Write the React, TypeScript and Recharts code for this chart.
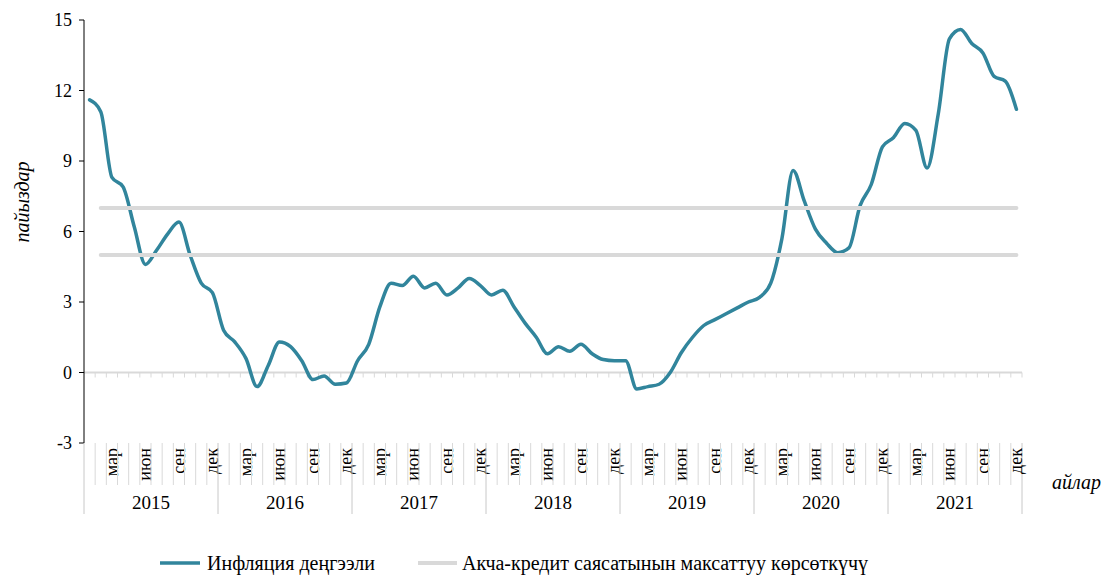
import React from "react";
import { LineChart, Line, XAxis, YAxis, ReferenceLine, Legend } from "recharts";

const years = ["2015", "2016", "2017", "2018", "2019", "2020", "2021"];
const monthNames = ["", "", "мар", "", "", "июн", "", "", "сен", "", "", "дек"];

// inflation, % y/y, Jan 2015 .. Dec 2021
const inflation = [
  11.6, 11.1, 8.3, 7.9, 6.2, 4.6, 5.2, 5.9, 6.4, 5.0, 3.8, 3.4,
  1.8, 1.3, 0.6, -0.6, 0.3, 1.3, 1.1, 0.5, -0.3, -0.15, -0.5, -0.45,
  0.5, 1.2, 2.8, 3.8, 3.7, 4.1, 3.6, 3.8, 3.3, 3.6, 4.0, 3.7,
  3.3, 3.5, 2.8, 2.1, 1.5, 0.8, 1.1, 0.9, 1.2, 0.8, 0.55, 0.5,
  0.5, -0.7, -0.6, -0.5, 0.0, 0.85, 1.5, 2.0, 2.25, 2.5, 2.75, 3.0,
  3.2, 3.8, 5.7, 8.6, 7.3, 6.1, 5.5, 5.1, 5.3, 7.1, 8.0, 9.6,
  10.0, 10.6, 10.3, 8.7, 11.0, 14.2, 14.6, 14.0, 13.6, 12.6, 12.4, 11.2,
];

// policy target corridor, drawn from Feb 2015
const targetLow = 5;
const targetHigh = 7;
const targetFrom = 1;

const yTicks = [-3, 0, 3, 6, 9, 12, 15];

const rows = inflation.map((v, i) => ({
  key: `${years[Math.floor(i / 12)]}-${i % 12}`,
  year: years[Math.floor(i / 12)],
  month: monthNames[i % 12],
  inflation: v,
  low: i >= targetFrom ? targetLow : null,
  high: i >= targetFrom ? targetHigh : null,
}));

const W = 1106;
const H = 576;
const LEFT = 84;
const RIGHT = 84;
const SLOT = (W - LEFT - RIGHT) / rows.length;

const TEAL = "#31859C";
const GRAY = "#D9D9D9";
const FONT = "'Liberation Serif', 'Times New Roman', serif";

const MonthTick = (props: any) => {
  const { x, y, index } = props;
  const row = rows[index];
  if (!row) return null;
  const m = index % 12;
  const left = x - SLOT / 2;
  const last = index === rows.length - 1;
  return (
    <g>
      <line
        x1={left}
        x2={left}
        y1={y}
        y2={y + (m === 0 ? 71 : 42)}
        stroke={m === 0 ? "#c8c8c8" : GRAY}
      />
      {last && (
        <line x1={x + SLOT / 2} x2={x + SLOT / 2} y1={y} y2={y + 71} stroke="#c8c8c8" />
      )}
      {row.month && (
        <text
          x={x + 6}
          y={y + 5}
          transform={`rotate(-90 ${x + 6} ${y + 5})`}
          textAnchor="end"
          style={{ fontSize: 18, fontFamily: FONT }}
          fill="#000"
        >
          {row.month}
        </text>
      )}
      {m === 6 && (
        <text
          x={left}
          y={y + 66}
          textAnchor="middle"
          style={{ fontSize: 19, fontFamily: FONT }}
          fill="#000"
        >
          {row.year}
        </text>
      )}
    </g>
  );
};

const ZeroLine = (props: any) => {
  const { x1, x2, y1 } = props;
  const step = (x2 - x1) / rows.length;
  return (
    <g>
      <line x1={x1} x2={x2} y1={y1} y2={y1} stroke={GRAY} strokeWidth={2} />
      {rows.map((_, i) => (
        <line
          key={i}
          x1={x1 + (i + 1) * step}
          x2={x1 + (i + 1) * step}
          y1={y1}
          y2={y1 + 5}
          stroke={GRAY}
        />
      ))}
    </g>
  );
};

const LegendBox = () => (
  <svg width={W} height={53} style={{ display: "block", fontFamily: FONT }}>
    <line x1={160} x2={200} y1={40} y2={40} stroke={TEAL} strokeWidth={3.5} />
    <text x={207} y={47} style={{ fontSize: 20, fontFamily: FONT }} fill="#000">
      Инфляция деңгээли
    </text>
    <line x1={418} x2={457} y1={40} y2={40} stroke={GRAY} strokeWidth={4} />
    <text x={462} y={47} style={{ fontSize: 20, fontFamily: FONT }} fill="#000">
      Акча-кредит саясатынын максаттуу көрсөткүчү
    </text>
  </svg>
);

const YTitle = () => (
  <text
    x={29}
    y={202}
    transform="rotate(-90 29 202)"
    textAnchor="middle"
    style={{ fontSize: 20, fontStyle: "italic", fontFamily: FONT }}
    fill="#000"
  >
    пайыздар
  </text>
);

const XTitle = (props: any) => {
  const vb = props.viewBox || {};
  const x = (vb.x ?? LEFT) + (vb.width ?? 938) + 30;
  const y = (vb.y ?? 443) + 46;
  return (
    <text
      x={x}
      y={y}
      style={{ fontSize: 20, fontStyle: "italic", fontFamily: FONT }}
      fill="#000"
    >
      айлар
    </text>
  );
};

export default function App() {
  return (
    <div
      style={{
        position: "absolute",
        left: 0,
        top: 0,
        background: "#fff",
        fontFamily: FONT,
      }}
    >
      <LineChart
        width={W}
        height={H}
        data={rows}
        margin={{ top: 20, right: RIGHT, bottom: 0, left: 0 }}
        style={{ fontFamily: FONT }}
      >
        <XAxis
          dataKey="key"
          scale="band"
          interval={0}
          axisLine={false}
          tickLine={false}
          tickSize={0}
          tickMargin={0}
          height={80}
          tick={<MonthTick />}
          label={<XTitle />}
        />
        <YAxis
          width={LEFT}
          domain={[-3, 15]}
          ticks={yTicks}
          interval={0}
          allowDataOverflow
          axisLine={{ stroke: "#000", strokeWidth: 1 }}
          tickLine={{ stroke: "#000" }}
          tickSize={5}
          tickMargin={7}
          tick={{ fontSize: 18, fontFamily: FONT, fill: "#000" }}
          label={<YTitle />}
        />
        <ReferenceLine y={0} shape={<ZeroLine />} />
        <Line
          dataKey="inflation"
          type="monotone"
          stroke={TEAL}
          strokeWidth={3.5}
          strokeLinecap="round"
          dot={false}
          activeDot={false}
          isAnimationActive={false}
        />
        <Line
          dataKey="low"
          type="linear"
          stroke={GRAY}
          strokeWidth={4}
          strokeLinecap="round"
          dot={false}
          activeDot={false}
          isAnimationActive={false}
        />
        <Line
          dataKey="high"
          type="linear"
          stroke={GRAY}
          strokeWidth={4}
          strokeLinecap="round"
          dot={false}
          activeDot={false}
          isAnimationActive={false}
        />
        <Legend
          verticalAlign="bottom"
          height={53}
          wrapperStyle={{ left: 0, width: W }}
          content={<LegendBox />}
        />
      </LineChart>
    </div>
  );
}
